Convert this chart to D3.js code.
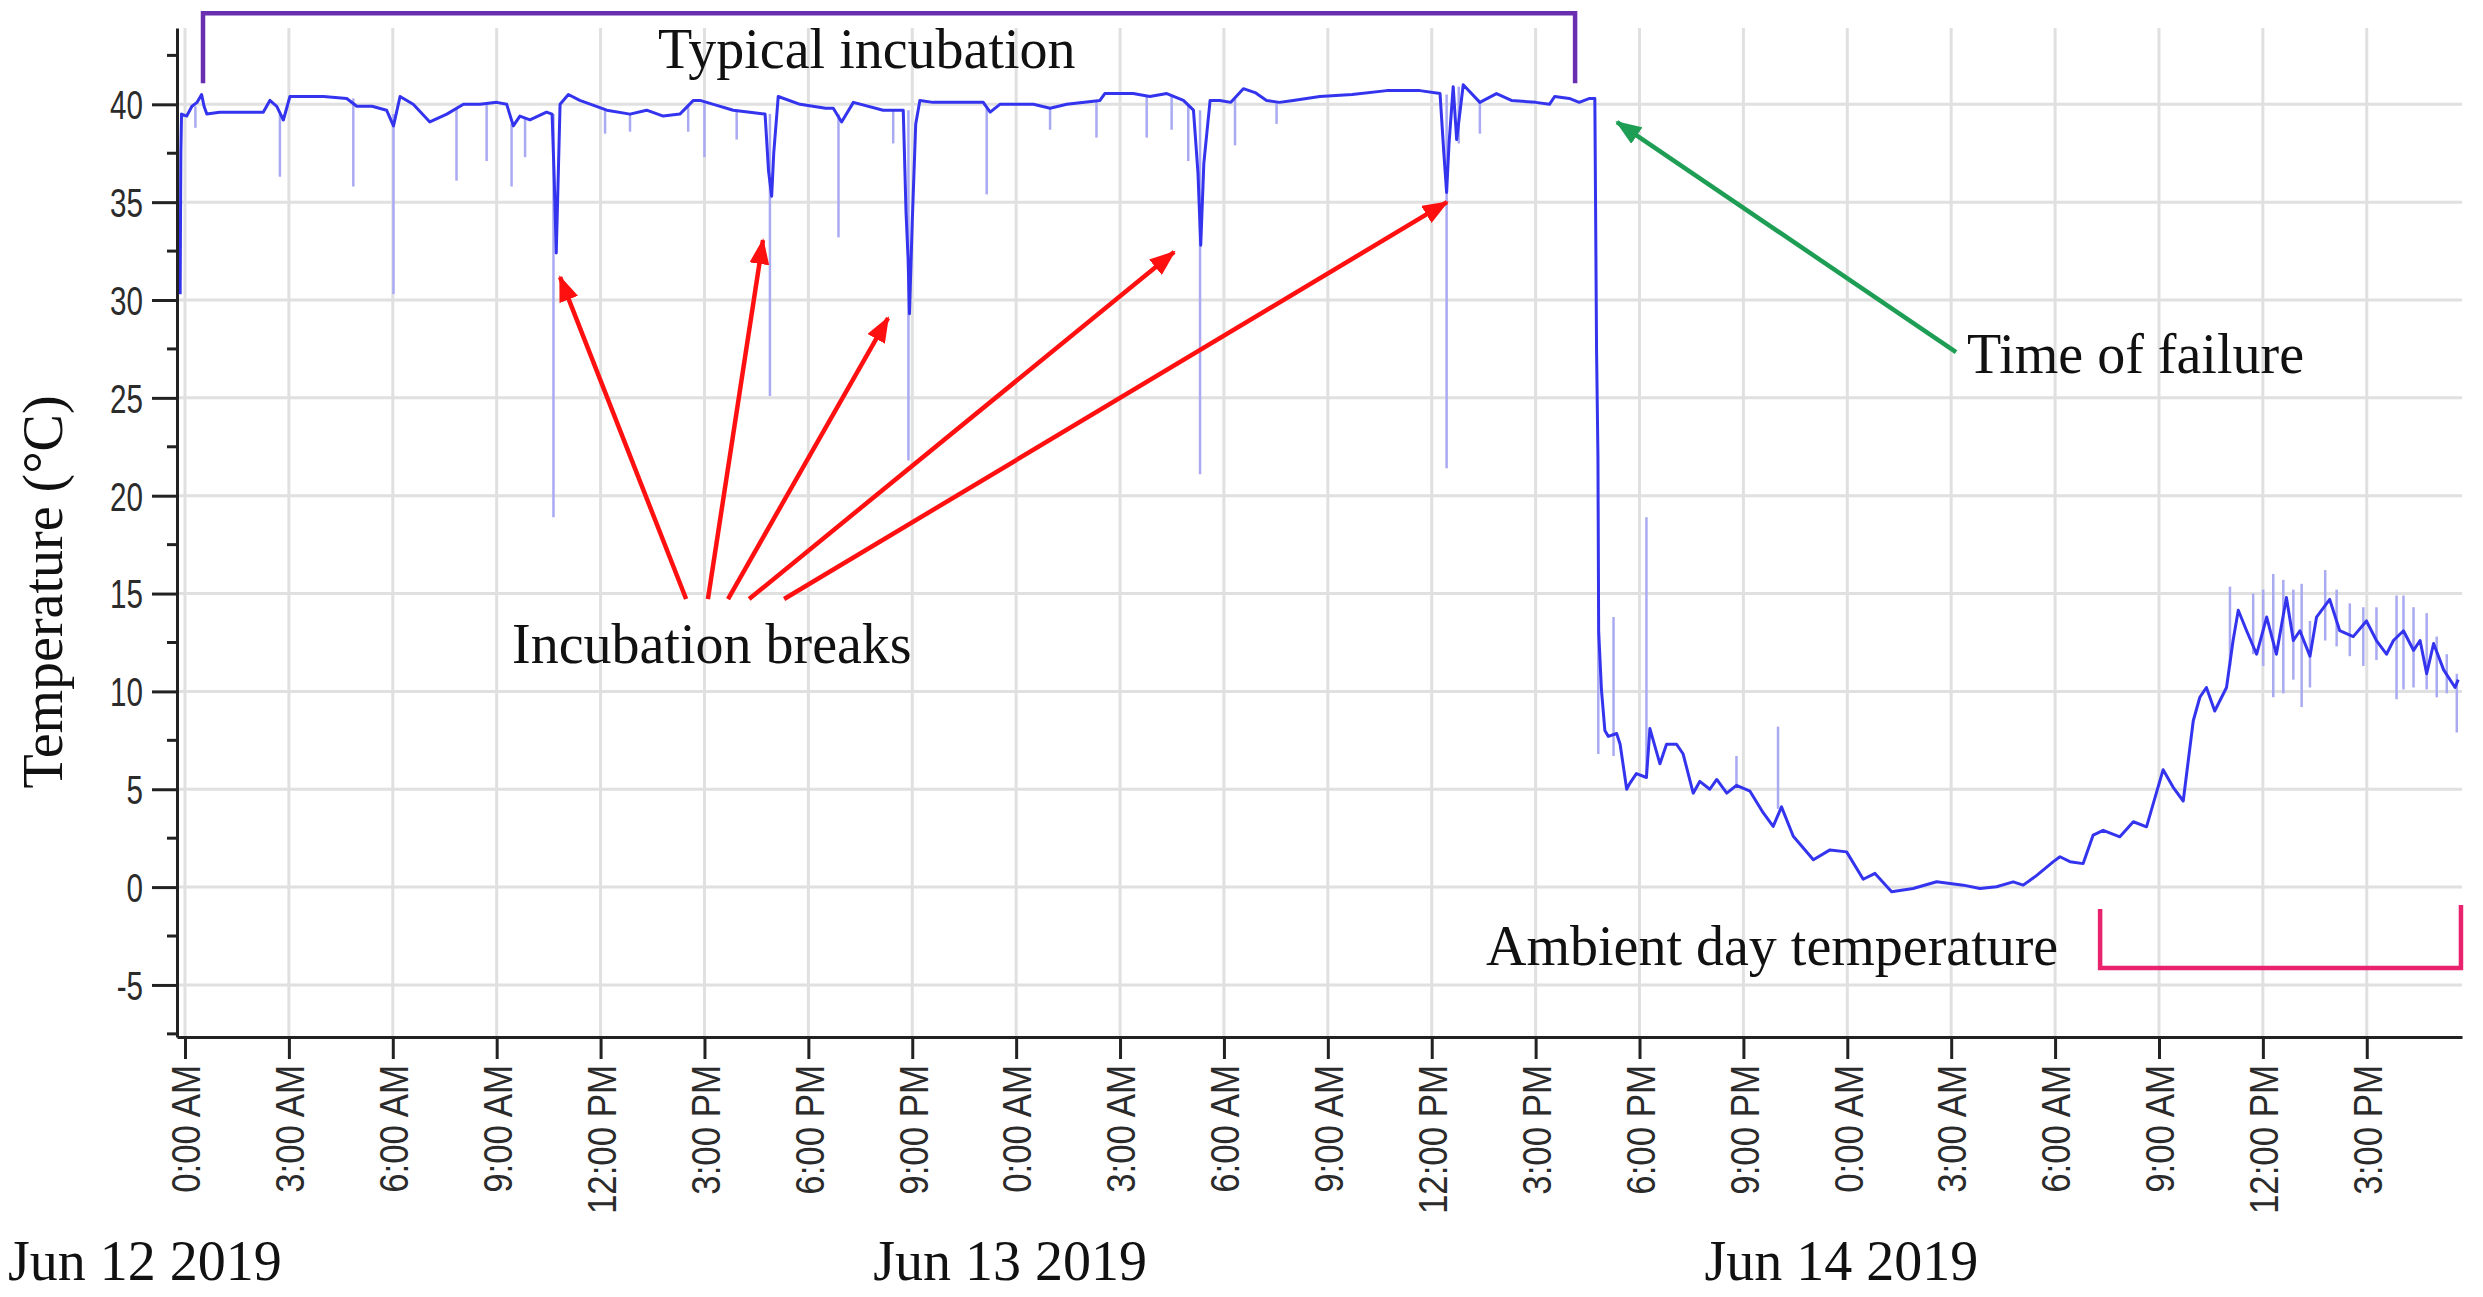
<!DOCTYPE html>
<html>
<head>
<meta charset="utf-8">
<script src="https://cdn.jsdelivr.net/npm/d3@7"></script>
<style>
  body { margin: 0; background: #fff; }
  svg { display: block; }
</style>
</head>
<body>
<svg id="chart" width="2483" height="1297"></svg>
<script>
// ---------- DATA (hours since Jun 12 2019 0:00, temperature °C) ----------
const mainSeries = [
  [-0.14, 30.3], [-0.12, 37.5], [-0.1, 39.5], [0.05, 39.4], [0.2, 39.9], [0.35, 40.1], [0.48, 40.5],
  [0.55, 39.9], [0.63, 39.5], [1.0, 39.6], [2.0, 39.6], [2.26, 39.6], [2.45, 40.2], [2.65, 39.9],
  [2.84, 39.2], [3.03, 40.4], [4.0, 40.4], [4.67, 40.3], [4.96, 39.9], [5.4, 39.9], [5.82, 39.7],
  [6.02, 38.9], [6.21, 40.4], [6.59, 40.0], [7.07, 39.1], [7.56, 39.5], [8.04, 40.0], [8.52, 40.0],
  [9.0, 40.1], [9.29, 40.0], [9.48, 38.9], [9.67, 39.4], [9.96, 39.2], [10.44, 39.6], [10.6, 39.5],
  [10.66, 36.3], [10.72, 32.4], [10.78, 36.5], [10.83, 40.0], [11.07, 40.5], [11.4, 40.2], [12.18, 39.7],
  [12.85, 39.5], [13.33, 39.7], [13.81, 39.4], [14.29, 39.5], [14.68, 40.2], [14.87, 40.2], [15.26, 40.0],
  [15.83, 39.7], [16.31, 39.6], [16.75, 39.5], [16.85, 36.6], [16.94, 35.3], [17.0, 37.5], [17.13, 40.4],
  [17.76, 40.0], [18.5, 39.8], [18.72, 39.8], [18.96, 39.1], [19.3, 40.1], [20.16, 39.7], [20.74, 39.7],
  [20.82, 34.5], [20.88, 32.1], [20.92, 29.3], [21.0, 34.0], [21.1, 39.0], [21.22, 40.2], [21.6, 40.1],
  [23.05, 40.1], [23.25, 39.6], [23.53, 40.0], [24.5, 40.0], [24.98, 39.8], [25.46, 40.0], [26.42, 40.2],
  [26.56, 40.55], [27.38, 40.55], [27.86, 40.4], [28.35, 40.55], [28.83, 40.2], [29.12, 39.7], [29.25, 36.5],
  [29.33, 32.8], [29.42, 37.0], [29.6, 40.2], [29.88, 40.2], [30.2, 40.1], [30.56, 40.8], [30.9, 40.6],
  [31.23, 40.2], [31.6, 40.1], [32.0, 40.2], [32.77, 40.4], [33.7, 40.5], [34.7, 40.7], [35.66, 40.7],
  [36.24, 40.55], [36.35, 37.5], [36.43, 35.5], [36.5, 38.0], [36.62, 40.9], [36.72, 38.2], [36.91, 41.0],
  [37.39, 40.1], [37.87, 40.55], [38.3, 40.2], [39.0, 40.1], [39.4, 40.0], [39.55, 40.4], [39.97, 40.3],
  [40.26, 40.1], [40.56, 40.3], [40.71, 40.3], [40.76, 27.4], [40.8, 22.0], [40.82, 13.1], [40.9, 10.1],
  [41.0, 8.0], [41.1, 7.7], [41.34, 7.85], [41.44, 7.3], [41.63, 5.0], [41.72, 5.3], [41.91, 5.8],
  [42.2, 5.6], [42.3, 8.1], [42.59, 6.3], [42.78, 7.3], [43.07, 7.3], [43.26, 6.8], [43.55, 4.8],
  [43.74, 5.4], [44.03, 5.0], [44.23, 5.5], [44.52, 4.8], [44.8, 5.2], [45.19, 4.9], [45.57, 3.8],
  [45.86, 3.1], [46.1, 4.1], [46.44, 2.6], [47.02, 1.4], [47.5, 1.9], [47.98, 1.8], [48.46, 0.4],
  [48.8, 0.7], [49.28, -0.24], [49.9, -0.07], [50.58, 0.27], [51.35, 0.1], [51.83, -0.07], [52.31, 0.02],
  [52.79, 0.27], [53.08, 0.1], [53.47, 0.6], [53.95, 1.3], [54.14, 1.55], [54.43, 1.3], [54.81, 1.2],
  [55.1, 2.66], [55.39, 2.9], [55.87, 2.57], [56.26, 3.34], [56.64, 3.08], [57.12, 6.0], [57.41, 5.1],
  [57.7, 4.4], [57.99, 8.5], [58.18, 9.7], [58.37, 10.2], [58.61, 9.0], [58.95, 10.2], [59.14, 12.6],
  [59.29, 14.15], [59.53, 13.1], [59.82, 11.9], [60.11, 13.8], [60.39, 11.9], [60.68, 14.8], [60.88, 12.6],
  [61.07, 13.1], [61.36, 11.8], [61.55, 13.8], [61.93, 14.7], [62.22, 13.1], [62.61, 12.8], [62.99, 13.6],
  [63.28, 12.6], [63.57, 11.9], [63.77, 12.6], [64.06, 13.1], [64.35, 12.1], [64.54, 12.6], [64.73, 10.9],
  [64.93, 12.45], [65.22, 11.1], [65.55, 10.2], [65.64, 10.6]
];

// faint raw-reading spikes: [hour, low, high]
const spikes = [
  [0.3, 38.8, 39.9], [2.74, 36.3, 39.5], [4.86, 35.8, 40.3], [6.02, 30.3, 39.5], [7.84, 36.1, 39.8],
  [8.71, 37.1, 40.0], [9.43, 35.8, 39.0], [9.82, 37.3, 39.3], [10.64, 18.9, 39.5], [12.13, 38.5, 39.7],
  [12.85, 38.6, 39.5], [14.53, 38.6, 40.0], [15.0, 37.3, 40.1], [15.93, 38.2, 39.7], [16.89, 25.1, 39.5],
  [18.87, 33.2, 39.5], [20.45, 38.0, 39.7], [20.89, 21.8, 39.7], [23.15, 35.4, 39.8], [24.98, 38.7, 39.8],
  [26.32, 38.3, 40.2], [27.77, 38.3, 40.4], [28.49, 38.7, 40.5], [28.97, 37.1, 40.0], [29.31, 21.1, 39.7],
  [30.32, 37.9, 40.3], [31.52, 39.0, 40.1], [36.43, 21.4, 40.5], [36.78, 38.0, 40.9], [37.39, 38.5, 40.1],
  [40.81, 6.8, 13.1], [41.25, 6.7, 13.8], [42.2, 5.6, 18.9], [44.8, 5.2, 6.7], [46.0, 4.0, 8.2],
  [59.05, 11.3, 15.35], [59.72, 11.9, 15.0], [60.01, 11.3, 15.2], [60.3, 9.7, 16.0], [60.59, 9.9, 15.7],
  [60.88, 10.6, 15.2], [61.12, 9.2, 15.5], [61.36, 10.2, 13.6], [61.8, 12.6, 16.2], [62.13, 12.3, 15.2],
  [62.51, 11.8, 14.5], [62.9, 11.3, 14.3], [63.28, 11.6, 14.3], [63.86, 9.6, 14.9], [64.06, 10.1, 14.9],
  [64.35, 10.2, 14.3], [64.73, 10.1, 14.0], [65.02, 9.7, 12.8], [65.31, 9.9, 11.9], [65.6, 7.9, 10.9]
];

const yTicks = [-5, 0, 5, 10, 15, 20, 25, 30, 35, 40];
const yTickLabels = ["-5", "0", "5", "10", "15", "20", "25", "30", "35", "40"];
const yMinorTicks = [-7.5, -2.5, 2.5, 7.5, 12.5, 17.5, 22.5, 27.5, 32.5, 37.5, 42.5];
const xTickHours = [0, 3, 6, 9, 12, 15, 18, 21, 24, 27, 30, 33, 36, 39, 42, 45, 48, 51, 54, 57, 60, 63];
const xTickLabels = [
  "0:00 AM", "3:00 AM", "6:00 AM", "9:00 AM", "12:00 PM", "3:00 PM", "6:00 PM", "9:00 PM",
  "0:00 AM", "3:00 AM", "6:00 AM", "9:00 AM", "12:00 PM", "3:00 PM", "6:00 PM", "9:00 PM",
  "0:00 AM", "3:00 AM", "6:00 AM", "9:00 AM", "12:00 PM", "3:00 PM"
];
const dateLabels = ["Jun 12 2019", "Jun 13 2019", "Jun 14 2019"];
const dateLabelHours = [0, 24, 48];

// annotations in data coordinates
const breakArrows = [  // [tailHour, tailTemp, headHour, headTemp]
  [14.47, 14.72, 10.83, 31.17],
  [15.10, 14.72, 16.69, 33.06],
  [15.68, 14.72, 20.30, 29.08],
  [16.29, 14.72, 28.56, 32.45],
  [17.30, 14.72, 36.44, 35.00]
];
const failureArrow = [51.14, 27.34, 41.35, 39.09];
const incubationBracket = [0.52, 40.14, 44.66, 41.08]; // [startHour, endHour, topTemp, legTemp]
const ambientBracket = [55.3, 65.72, -4.14, -1.12];    // [startHour, endHour, bottomTemp, legTemp]

// ---------- CHART ----------
const W = 2483, H = 1297;
const svg = d3.select("#chart");
svg.append("rect").attr("width", W).attr("height", H).attr("fill", "#fff");

const x = d3.scaleLinear().domain([-0.231, 65.75]).range([177, 2462]);
const y = d3.scaleLinear().domain([-7.66, 43.9]).range([1037, 28]);

const serif = "'Liberation Serif', 'Times New Roman', serif";
const sans = "'Liberation Sans', Arial, sans-serif";

// grid
const grid = svg.append("g");
grid.selectAll("line.hg").data(yTicks).join("line").attr("class", "hg")
  .attr("x1", x.range()[0]).attr("x2", x.range()[1])
  .attr("y1", d => y(d)).attr("y2", d => y(d))
  .attr("stroke", "#e0e0e0").attr("stroke-width", 3);
grid.selectAll("line.vg").data(xTickHours).join("line").attr("class", "vg")
  .attr("x1", d => x(d)).attr("x2", d => x(d))
  .attr("y1", y.range()[1]).attr("y2", y.range()[0])
  .attr("stroke", "#e0e0e0").attr("stroke-width", 3);

// faint spikes
svg.append("g").selectAll("line").data(spikes).join("line")
  .attr("x1", d => x(d[0])).attr("x2", d => x(d[0]))
  .attr("y1", d => y(d[1])).attr("y2", d => y(d[2]))
  .attr("stroke", "#aaaaf2").attr("stroke-width", 2.5);

// main line
const line = d3.line().x(d => x(d[0])).y(d => y(d[1]));
svg.append("path").datum(mainSeries)
  .attr("d", line).attr("fill", "none")
  .attr("stroke", "#3434ee").attr("stroke-width", 3)
  .attr("stroke-linejoin", "round");

// axes
const xAxis = d3.axisBottom(x).tickValues(xTickHours)
  .tickFormat((d, i) => xTickLabels[i]).tickSize(22).tickSizeOuter(0);
const gx = svg.append("g").attr("transform", `translate(0,${y.range()[0]})`).call(xAxis);
gx.select(".domain").attr("stroke", "#222").attr("stroke-width", 3);
gx.selectAll(".tick line").attr("stroke", "#222").attr("stroke-width", 3);
const xs = 0.85;
gx.selectAll(".tick text")
  .attr("transform", `rotate(-90) scale(${xs},1)`).attr("text-anchor", "end")
  .attr("x", -28 / xs).attr("y", 0).attr("dy", "0.36em")
  .style("font-family", sans).style("font-size", "41px").attr("fill", "#2b2b2b");

const yAxis = d3.axisLeft(y).tickValues(yTicks)
  .tickFormat((d, i) => yTickLabels[i]).tickSize(25).tickSizeOuter(0);
const gy = svg.append("g").attr("transform", `translate(${x.range()[0]},0)`).call(yAxis);
gy.select(".domain").attr("stroke", "#222").attr("stroke-width", 3);
gy.selectAll(".tick line").attr("stroke", "#222").attr("stroke-width", 3);
const ys = 0.74;
gy.selectAll(".tick text")
  .attr("transform", `scale(${ys},1)`).attr("x", -34 / ys).attr("dy", "0.36em")
  .style("font-family", sans).style("font-size", "40px").attr("fill", "#2b2b2b");
gy.selectAll("line.minor").data(yMinorTicks).join("line").attr("class", "minor")
  .attr("x1", -10).attr("x2", 0).attr("y1", d => y(d)).attr("y2", d => y(d))
  .attr("stroke", "#222").attr("stroke-width", 3);

// axis title
svg.append("text")
  .attr("transform", `translate(62,592) rotate(-90)`)
  .attr("text-anchor", "middle")
  .style("font-family", serif).style("font-size", "56px").attr("fill", "#111")
  .text("Temperature (°C)");

// date labels
svg.append("g").selectAll("text").data(dateLabels).join("text")
  .attr("x", (d, i) => i === 0 ? 8 : x(dateLabelHours[i]) - 6)
  .attr("y", 1280)
  .attr("text-anchor", (d, i) => i === 0 ? "start" : "middle")
  .style("font-family", serif).style("font-size", "56px").attr("fill", "#111")
  .text(d => d);

// arrow markers
const defs = svg.append("defs");
function marker(id, color) {
  defs.append("marker").attr("id", id)
    .attr("viewBox", "0 0 26 20").attr("refX", 24).attr("refY", 10)
    .attr("markerWidth", 26).attr("markerHeight", 20)
    .attr("markerUnits", "userSpaceOnUse").attr("orient", "auto")
    .append("path").attr("d", "M0,0 L26,10 L0,20 Z").attr("fill", color);
}
marker("redHead", "#ff1010");
marker("greenHead", "#1e9e55");

svg.append("g").selectAll("line").data(breakArrows).join("line")
  .attr("x1", d => x(d[0])).attr("y1", d => y(d[1]))
  .attr("x2", d => x(d[2])).attr("y2", d => y(d[3]))
  .attr("stroke", "#ff1010").attr("stroke-width", 4.5)
  .attr("marker-end", "url(#redHead)");

svg.append("line")
  .attr("x1", x(failureArrow[0])).attr("y1", y(failureArrow[1]))
  .attr("x2", x(failureArrow[2])).attr("y2", y(failureArrow[3]))
  .attr("stroke", "#1e9e55").attr("stroke-width", 4.5)
  .attr("marker-end", "url(#greenHead)");

// brackets
const ib = incubationBracket;
svg.append("path")
  .attr("d", `M${x(ib[0])},${y(ib[3])} V${y(ib[2])} H${x(ib[1])} V${y(ib[3])}`)
  .attr("fill", "none").attr("stroke", "#6a2eb0").attr("stroke-width", 4.5);
const ab = ambientBracket;
svg.append("path")
  .attr("d", `M${x(ab[0])},${y(ab[3])} V${y(ab[2])} H${x(ab[1])} V${y(ab[3]) - 4}`)
  .attr("fill", "none").attr("stroke", "#e8226c").attr("stroke-width", 4.5);

// annotation texts
const notes = [
  { t: "Typical incubation", x: 658, y: 68 },
  { t: "Incubation breaks", x: 512, y: 663 },
  { t: "Time of failure", x: 1967, y: 373 },
  { t: "Ambient day temperature", x: 1486, y: 965 }
];
svg.append("g").selectAll("text").data(notes).join("text")
  .attr("x", d => d.x).attr("y", d => d.y)
  .style("font-family", serif).style("font-size", "56px").attr("fill", "#111")
  .text(d => d.t);
</script>
</body>
</html>
